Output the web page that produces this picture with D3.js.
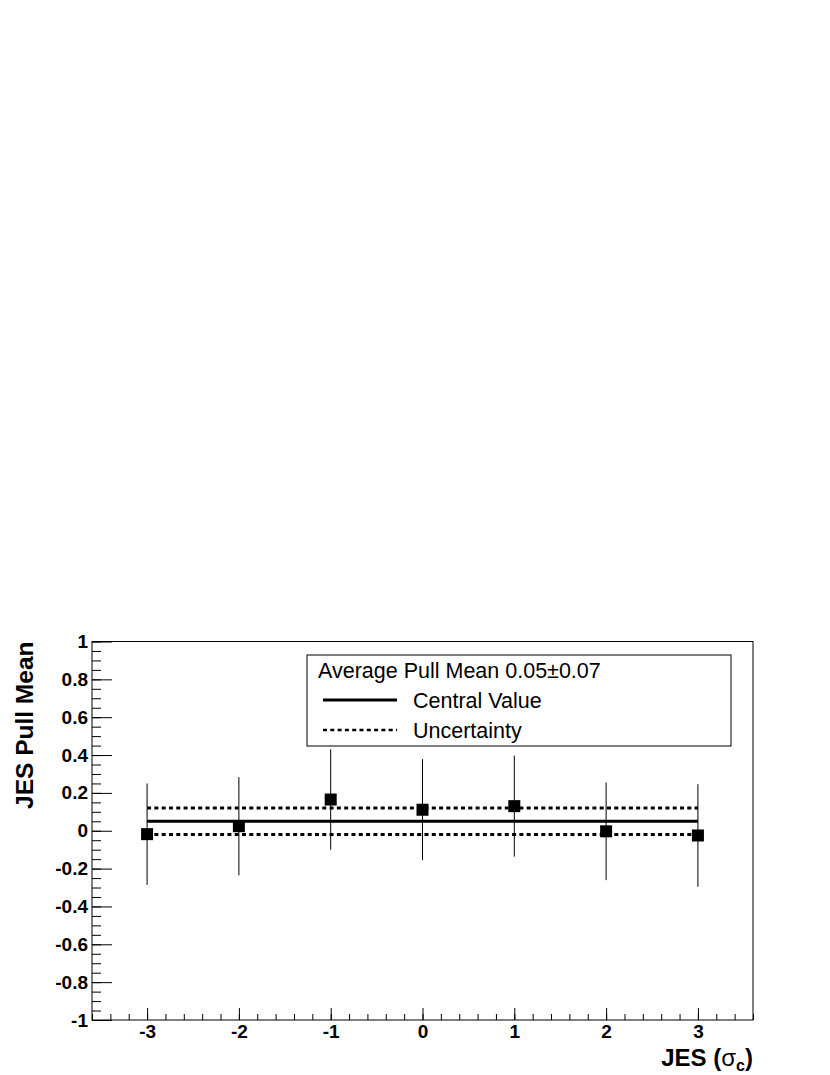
<!DOCTYPE html>
<html>
<head>
<meta charset="utf-8">
<script src="https://cdn.jsdelivr.net/npm/d3@7"></script>
<style>
  body { margin: 0; background: #fff; }
  svg { font-family: "Liberation Sans", Arial, Helvetica, sans-serif; }
  .tick text { font-size: 19px; font-weight: bold; fill: #000; }
</style>
</head>
<body>
<script>
// JES shift (in sigma_c) and the fitted pull mean at each point
var jesShift = [-3, -2, -1, 0, 1, 2, 3];
var pullMean = [-0.018, 0.024, 0.165, 0.111, 0.13, -0.003, -0.025];
var pullErr  = [0.268, 0.259, 0.265, 0.267, 0.267, 0.258, 0.271];

var avgMean = 0.05, avgErr = 0.07;

var xTicks = [-3, -2, -1, 0, 1, 2, 3];
var yTicks = [-1, -0.8, -0.6, -0.4, -0.2, 0, 0.2, 0.4, 0.6, 0.8, 1];

var legendTitle = "Average Pull Mean 0.05\u00b10.07";
var legendItems = ["Central Value", "Uncertainty"];

var margin = {top: 641.5, right: 77, bottom: 55, left: 92},
    width = 830 - margin.left - margin.right,
    height = 1075 - margin.top - margin.bottom;

var x = d3.scaleLinear().domain([-3.6, 3.6]).range([0, width]);
var y = d3.scaleLinear().domain([-1, 1]).range([height, 0]);

// ROOT style labels: plain hyphen, no trailing zeros on integers
function fmt(d) {
  var s = (d === 0 || Math.abs(d) === 1 || Math.abs(d) >= 2) ? String(d) : d.toFixed(1);
  return s.replace("\u2212", "-");
}

var svg = d3.select("body").append("svg")
    .attr("width", 830)
    .attr("height", 1075)
  .append("g")
    .attr("transform", "translate(" + margin.left + "," + margin.top + ")");

// minor ticks
var xMinor = d3.range(-3.6, 3.61, 0.2).map(function(v) { return Math.round(v * 10) / 10; });
var yMinor = d3.range(-1, 1.001, 0.05).map(function(v) { return Math.round(v * 100) / 100; });

svg.append("g")
    .attr("transform", "translate(0," + height + ")")
    .call(d3.axisBottom(x).tickValues(xMinor).tickSize(-6).tickFormat(""))
    .call(function(g) { g.select(".domain").remove(); });

svg.append("g")
    .call(d3.axisLeft(y).tickValues(yMinor).tickSize(-9).tickFormat(""))
    .call(function(g) { g.select(".domain").remove(); });

// major ticks
svg.append("g")
    .attr("transform", "translate(0," + height + ")")
    .call(d3.axisBottom(x).tickValues(xTicks).tickSize(-12).tickPadding(5).tickFormat(fmt))
    .call(function(g) { g.select(".domain").remove(); });

svg.append("g")
    .call(d3.axisLeft(y).tickValues(yTicks).tickSize(-20).tickPadding(4).tickFormat(fmt))
    .call(function(g) { g.select(".domain").remove(); });

svg.selectAll(".tick line").attr("stroke", "#000");

// frame
svg.append("rect")
    .attr("x", 0).attr("y", 0)
    .attr("width", width).attr("height", height)
    .attr("fill", "none")
    .attr("stroke", "#000")
    .attr("stroke-width", 1);

// average lines
svg.append("line")
    .attr("x1", x(jesShift[0])).attr("x2", x(jesShift[jesShift.length - 1]))
    .attr("y1", y(avgMean)).attr("y2", y(avgMean))
    .attr("stroke", "#000").attr("stroke-width", 3);

[avgMean + avgErr, avgMean - avgErr].forEach(function(v) {
  svg.append("line")
      .attr("x1", x(jesShift[0])).attr("x2", x(jesShift[jesShift.length - 1]))
      .attr("y1", y(v)).attr("y2", y(v))
      .attr("stroke", "#000").attr("stroke-width", 3)
      .attr("stroke-dasharray", "4,3.3");
});

// error bars
var data = jesShift.map(function(d, i) { return {x: d, y: pullMean[i], e: pullErr[i]}; });

svg.selectAll(".err")
    .data(data)
  .enter().append("line")
    .attr("class", "err")
    .attr("x1", function(d) { return x(d.x); })
    .attr("x2", function(d) { return x(d.x); })
    .attr("y1", function(d) { return y(d.y + d.e); })
    .attr("y2", function(d) { return y(d.y - d.e); })
    .attr("stroke", "#000").attr("stroke-width", 1);

svg.selectAll(".pt")
    .data(data)
  .enter().append("rect")
    .attr("class", "pt")
    .attr("x", function(d) { return x(d.x) - 6; })
    .attr("y", function(d) { return y(d.y) - 6; })
    .attr("width", 12).attr("height", 12)
    .attr("fill", "#000");

// legend
var leg = svg.append("g").attr("transform", "translate(" + (307 - margin.left) + "," + (655 - margin.top) + ")");
leg.append("rect")
    .attr("width", 424).attr("height", 91)
    .attr("fill", "#fff").attr("stroke", "#000").attr("stroke-width", 1);
leg.append("text")
    .attr("x", 11).attr("y", 15).attr("dy", "0.35em")
    .style("font-size", "21.5px")
    .text(legendTitle);
legendItems.forEach(function(t, i) {
  var yy = 45 + i * 30;
  leg.append("line")
      .attr("x1", 16).attr("x2", 90)
      .attr("y1", yy).attr("y2", yy)
      .attr("stroke", "#000")
      .attr("stroke-width", i === 0 ? 3 : 2.5)
      .attr("stroke-dasharray", i === 0 ? null : "4,3.3");
  leg.append("text")
      .attr("x", 106).attr("y", yy).attr("dy", "0.35em")
      .style("font-size", "21.5px")
      .text(t);
});

// axis titles
var xt = svg.append("text")
    .attr("x", width).attr("y", 1066 - margin.top)
    .attr("text-anchor", "end")
    .style("font-size", "24px").style("font-weight", "bold");
xt.append("tspan").text("JES (");
xt.append("tspan").style("font-weight", "normal").text("\u03c3");
xt.append("tspan").attr("dy", 5).style("font-size", "16px").text("c");
xt.append("tspan").attr("dy", -5).text(")");

svg.append("text")
    .attr("transform", "translate(" + (33 - margin.left) + ",0) rotate(-90)")
    .attr("text-anchor", "end")
    .style("font-size", "24.5px").style("font-weight", "bold")
    .text("JES Pull Mean");
</script>
</body>
</html>
